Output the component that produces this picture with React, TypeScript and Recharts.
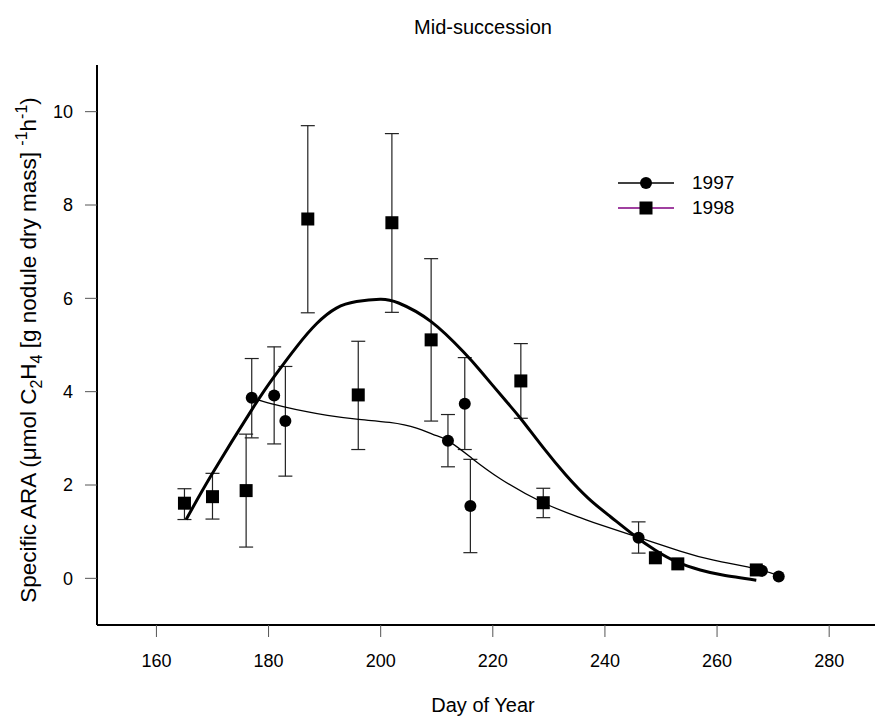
import React from 'react'
import {
  ComposedChart,
  Scatter,
  Line,
  XAxis,
  YAxis,
  ErrorBar,
  Legend,
  Label,
} from 'recharts'

const FONT = '"Liberation Sans", Arial, sans-serif'
const PURPLE = '#800080'

// 1997 measurements
const DAYS_97 = [177, 181, 183, 212, 215, 216, 246, 268, 271]
const ARA_97 = [3.87, 3.92, 3.37, 2.95, 3.74, 1.55, 0.87, 0.16, 0.04]
const HI_97 = [4.71, 4.96, 4.54, 3.51, 4.73, 2.55, 1.21, null, null]
const LO_97 = [3.01, 2.88, 2.19, 2.39, 2.76, 0.55, 0.54, null, null]

// 1998 measurements
const DAYS_98 = [165, 170, 176, 187, 196, 202, 209, 225, 229, 249, 253, 267]
const ARA_98 = [1.61, 1.75, 1.88, 7.7, 3.93, 7.62, 5.11, 4.23, 1.62, 0.44, 0.31, 0.18]
const HI_98 = [1.92, 2.25, 3.09, 9.7, 5.08, 9.53, 6.85, 5.03, 1.93, null, null, null]
const LO_98 = [1.26, 1.27, 0.67, 5.69, 2.76, 5.7, 3.37, 3.43, 1.3, null, null, null]

// fitted curves
const FIT97_X = [177, 179, 182.6, 186.8, 190.5, 195.7, 201.6, 206.4, 209.4, 212, 216.3, 221.4, 229, 235.6, 239.1, 245.7, 253.4, 259.4, 267, 271]
const FIT97_Y = [3.87, 3.79, 3.68, 3.57, 3.49, 3.41, 3.34, 3.22, 3.08, 2.95, 2.57, 2.13, 1.62, 1.3, 1.15, 0.89, 0.585, 0.39, 0.2, 0.06]
const FIT98_X = [165.3, 170, 177, 181, 185, 188.6, 192.1, 195.7, 199.9, 203.2, 209, 214.7, 217.7, 222.2, 225, 229, 233, 237, 241, 245, 249, 253, 257, 261, 267]
const FIT98_Y = [1.26, 2.25, 3.61, 4.32, 4.96, 5.46, 5.79, 5.93, 5.98, 5.9, 5.5, 4.86, 4.46, 3.82, 3.42, 2.8, 2.22, 1.72, 1.32, 0.94, 0.6, 0.34, 0.18, 0.07, -0.04]

const X_TICKS = [160, 180, 200, 220, 240, 260, 280]
const Y_TICKS = [0, 2, 4, 6, 8, 10]

const toPoints = (days: number[], ara: number[], hi: (number | null)[], lo: (number | null)[]) =>
  days.map((d, i) => ({
    x: d,
    y: ara[i],
    err: hi[i] == null || lo[i] == null ? null : [ara[i] - (lo[i] as number), (hi[i] as number) - ara[i]],
  }))

const toCurve = (xs: number[], ys: number[]) => xs.map((x, i) => ({ x, y: ys[i] }))

const pts97 = toPoints(DAYS_97, ARA_97, HI_97, LO_97)
const pts98 = toPoints(DAYS_98, ARA_98, HI_98, LO_98)
const fit97 = toCurve(FIT97_X, FIT97_Y)
const fit98 = toCurve(FIT98_X, FIT98_Y)

const Dot = (p: any) => <circle cx={p.cx} cy={p.cy} r={6} fill="#000" />
const Square = (p: any) => <rect x={p.cx - 6.5} y={p.cy - 6.5} width={13} height={13} fill="#000" />

function LegendBox() {
  const row = (label: string, color: string, circle: boolean) => (
    <div style={{ display: 'flex', alignItems: 'center', height: 25 }}>
      <svg width={56} height={16}>
        <line x1={0} y1={8} x2={56} y2={8} stroke={color} strokeWidth={1.3} />
        {circle ? (
          <circle cx={28} cy={8} r={6} fill="#000" />
        ) : (
          <rect x={21.5} y={1.5} width={13} height={13} fill="#000" />
        )}
      </svg>
      <span style={{ marginLeft: 18, fontSize: 19, fontFamily: FONT, color: '#000' }}>{label}</span>
    </div>
  )
  return (
    <div>
      {row('1997', '#000', true)}
      {row('1998', PURPLE, false)}
    </div>
  )
}

function YLabel() {
  const cx = 36
  const cy = 350
  return (
    <text
      x={cx}
      y={cy}
      transform={`rotate(-90 ${cx} ${cy})`}
      textAnchor="middle"
      fontSize={22.5}
      fontFamily={FONT}
      fill="#000"
    >
      Specific ARA (μmol C
      <tspan dy={6} fontSize={16}>2</tspan>
      <tspan dy={-6}>H</tspan>
      <tspan dy={6} fontSize={16}>4</tspan>
      <tspan dy={-6}> [g nodule dry mass] </tspan>
      <tspan dy={-9} fontSize={16}>-1</tspan>
      <tspan dy={9}>h</tspan>
      <tspan dy={-9} fontSize={16}>-1</tspan>
      <tspan dy={9}>)</tspan>
    </text>
  )
}

const XLabel = () => (
  <text x={483} y={712} textAnchor="middle" fontSize={20} fontFamily={FONT} fill="#000">
    Day of Year
  </text>
)

const Title = () => (
  <text x={483} y={34} textAnchor="middle" fontSize={20} fontFamily={FONT} fill="#000">
    Mid-succession
  </text>
)

export default function App() {
  return (
    <div style={{ position: 'relative', width: 883, height: 717, marginTop: -8, marginLeft: -8, background: '#fff' }}>
      <ComposedChart width={883} height={717} margin={{ top: 65, right: 0, left: 0, bottom: 0 }}>
        <XAxis
          dataKey="x"
          type="number"
          domain={[149.4, 289.6]}
          ticks={X_TICKS}
          allowDataOverflow
          height={92}
          tickSize={12}
          tickMargin={17}
          axisLine={{ stroke: '#000', strokeWidth: 2 }}
          tickLine={{ stroke: '#555', strokeWidth: 1 }}
          tick={{ fontSize: 18, fill: '#000', fontFamily: FONT }}
        >
          <Label content={XLabel} />
        </XAxis>
        <YAxis
          type="number"
          domain={[-1, 11]}
          ticks={Y_TICKS}
          allowDataOverflow
          width={97}
          tickSize={12}
          tickMargin={12}
          axisLine={{ stroke: '#000', strokeWidth: 2 }}
          tickLine={{ stroke: '#555', strokeWidth: 1 }}
          tick={{ fontSize: 18, fill: '#000', fontFamily: FONT }}
        >
          <Label content={YLabel} />
          <Label content={Title} />
        </YAxis>
        <Scatter data={pts98} dataKey="y" shape={Square} isAnimationActive={false}>
          <ErrorBar dataKey="err" direction="y" width={7} stroke="#222" strokeWidth={1.2} />
        </Scatter>
        <Scatter data={pts97} dataKey="y" shape={Dot} isAnimationActive={false}>
          <ErrorBar dataKey="err" direction="y" width={7} stroke="#222" strokeWidth={1.2} />
        </Scatter>
        <Line
          data={fit98}
          dataKey="y"
          type="natural"
          stroke="#000"
          strokeWidth={3}
          dot={false}
          activeDot={false}
          isAnimationActive={false}
        />
        <Line
          data={fit97}
          dataKey="y"
          type="natural"
          stroke="#000"
          strokeWidth={1.3}
          dot={false}
          activeDot={false}
          isAnimationActive={false}
        />
        <Legend
          layout="vertical"
          align="center"
          verticalAlign="middle"
          content={() => <LegendBox />}
          wrapperStyle={{ position: 'absolute', left: 618, top: 170, width: 160 }}
        />
      </ComposedChart>
    </div>
  )
}
